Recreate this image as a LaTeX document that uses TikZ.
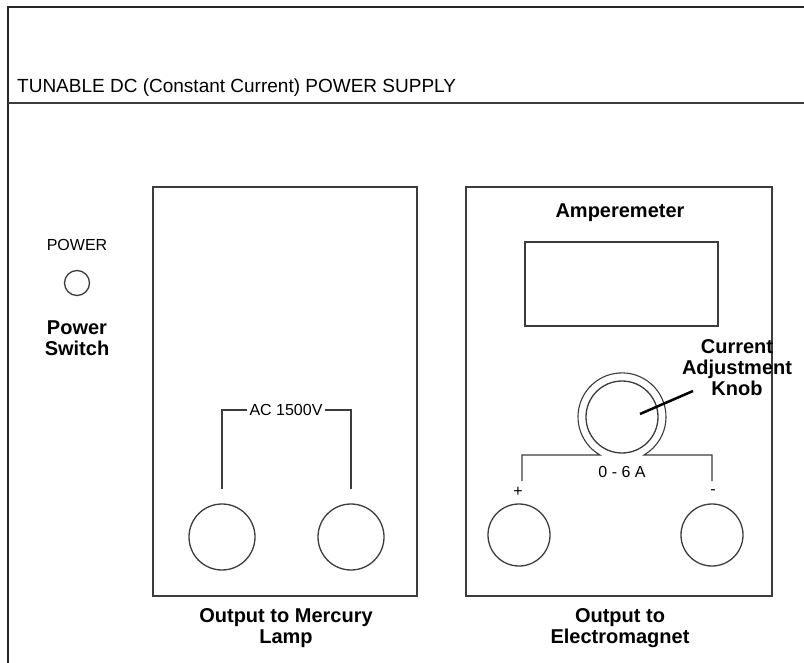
\documentclass[tikz,border=0pt]{standalone}
\usepackage{fontspec}
\setmainfont{Liberation Sans}
\definecolor{linegray}{RGB}{60,60,60}
\begin{document}
\begin{tikzpicture}[x=1pt,y=-1pt,
  ln/.style={draw=linegray, line width=1.3pt},
  small/.style={font=\fontsize{16}{19}\selectfont, inner sep=0pt},
  titletxt/.style={font=\fontsize{19}{22}\selectfont, inner sep=0pt},
  big/.style={font=\bfseries\fontsize{20}{21}\selectfont, align=center, inner sep=0pt},
  panel/.style={ln, rectangle, inner sep=0pt, minimum height=409pt},
  jack/.style={ln, circle, inner sep=0pt}
]
\useasboundingbox (0,0) rectangle (804,663);
\fill[white] (0,0) rectangle (804,663);
% outer frame
\draw[line width=2pt, draw=black!85] (804,7) -- (8,7) -- (8,663);
\draw[line width=1.6pt, draw=linegray] (8,103) -- (804,103);
\node[titletxt, anchor=base west] (title) at (17,93) {TUNABLE DC (Constant Current) POWER SUPPLY};

% power switch
\node[small] (pwrlbl) at (77,245) {POWER};
\node[jack, minimum size=25pt] (pwr) at (77,283) {};
\node[big] (pwrsw) at (77,338) {Power\\Switch};

% left panel
\node[panel, minimum width=264pt] (lpanel) at (285,391.5) {};
\node[small, inner xsep=2pt] (ac) at (286,410) {AC 1500V};
\node[jack, minimum size=66pt] (lj1) at (222,537) {};
\node[jack, minimum size=66pt] (lj2) at (351,537) {};
\coordinate (acL) at (222,489);
\coordinate (acR) at (351,489);
\draw[ln, line width=1.1pt] (ac.west) -| (acL);
\draw[ln, line width=1.1pt] (ac.east) -| (acR);
\node[big] (lcap) at (286,628) {Output to Mercury\\Lamp};

% right panel
\node[panel, minimum width=306pt] (rpanel) at (619,391.5) {};
\node[big] (amlbl) at (620,213) {Amperemeter};
\node[ln, rectangle, minimum width=193pt, minimum height=84pt] (disp) at (621.5,284) {};
\node[jack, minimum size=72pt] (knob) at (622,417) {};
\coordinate (kL) at (522,481);
\coordinate (kR) at (712,481);
\draw[ln, line width=1.1pt] (kL) -- (522,455) -- (600,455) arc[start angle=120, end angle=420, radius=44] -- (712,455) -- (kR);
\node[small] (range) at (622,472) {0 - 6 A};
\node[small] (plus) at (518,492) {+};
\node[small] (minus) at (713,492) {-};
\node[jack, minimum size=62pt] (rj1) at (519,535) {};
\node[jack, minimum size=62pt] (rj2) at (712,535) {};
\node[big] (knoblbl) at (737,368) {Current\\Adjustment\\Knob};
\coordinate (ptr) at (640,414);
\coordinate (ptrend) at (693,391);
\draw[line width=2.5pt, draw=black] (ptr) -- (ptrend);
\node[big] (rcap) at (620,628) {Output to\\Electromagnet};
\end{tikzpicture}
\end{document}
